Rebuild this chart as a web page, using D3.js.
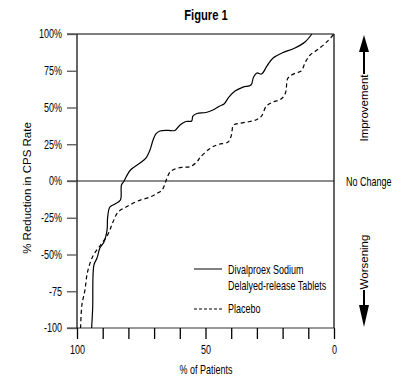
<!DOCTYPE html>
<html>
<head>
<meta charset="utf-8">
<script src="https://cdn.jsdelivr.net/npm/d3@7"></script>
<style>
  body { margin: 0; background: #fff; }
  svg { display: block; }
  text { font-family: 'Liberation Sans', Arial, sans-serif; }
</style>
</head>
<body>
<div id="chart"></div>
<script>
// Divalproex Sodium curve (% of patients, % reduction)
const solidX = [94.3, 93.9, 93.4, 92.2, 91.1, 89.5, 88.3, 88.1, 87.2, 85.2, 83.1, 82.7, 81.7, 79.2, 75.5, 73.2, 71.6, 70.4, 69.3, 67.7, 64.6, 61.9, 59.9, 57.6, 55.4, 54.9, 53.3, 49.8, 47.1, 44.4, 42.8, 40.9, 38.5, 35.4, 32.3, 31.3, 30.0, 28.2, 26.1, 23.7, 20.2, 15.2, 11.3, 8.6];
const solidY = [-100, -86.4, -57.1, -52.4, -45.6, -41.5, -33.3, -25.2, -17.7, -15.6, -12.9, -2.7, 0, 7.5, 12.2, 15.6, 21.1, 27.9, 32, 34, 34.4, 34.4, 38.1, 40.5, 40.8, 44.2, 45.9, 46.6, 48.3, 51, 52.4, 57.1, 61.2, 63.9, 65.3, 70.7, 73.5, 72.8, 78.2, 83.7, 87.1, 90.5, 94.6, 100];

// Placebo curve
const placeboX = [98.6, 98.1, 96.9, 95.9, 93.8, 91.1, 87.9, 86.0, 84.0, 80.9, 76.3, 71.6, 68.9, 66.9, 65.8, 65.0, 63.8, 61.9, 58.8, 56.0, 53.3, 52.1, 48.2, 45.1, 41.2, 39.9, 39.1, 36.6, 32.7, 30.0, 28.2, 26.3, 23.7, 20.6, 18.9, 18.1, 17.1, 14.8, 12.8, 11.1, 9.3, 6.6, 2.8, 0];
const placeboY = [-100, -84.4, -74.1, -61.9, -51, -44.2, -36.1, -27.9, -21.1, -17.7, -13.6, -10.9, -8.5, -6.1, -2, 2, 6.1, 8.2, 9.3, 9.7, 13.1, 16, 22.2, 24.8, 26.5, 31.3, 38.1, 39.3, 40.5, 41.8, 44.2, 51, 53.7, 55.8, 59.9, 69.4, 71.4, 73.5, 74.8, 81, 85.7, 89.1, 94.6, 100];

const yTicks = [100, 75, 50, 25, 0, -25, -50, -75, -100];
const yTickLabels = ['100%', '75%', '50%', '25%', '0%', '-25%', '-50%', '-75', '-100'];
const xTicks = [100, 90, 80, 70, 60, 50, 40, 30, 20, 10, 0];
const xTickLabels = ['100', '', '', '', '', '50', '', '', '', '', '0'];

const width = 401, height = 379;
const plotLeft = 77, plotRight = 334, plotTop = 34, plotBottom = 328;
const squeeze = 0.75; // condensed look

const svg = d3.select('#chart').append('svg')
  .attr('width', width)
  .attr('height', height);

const x = d3.scaleLinear().domain([100, 0]).range([plotLeft, plotRight]);
const y = d3.scaleLinear().domain([-100, 100]).range([plotBottom, plotTop]);

// narrow text helper
function narrow(px, py, str, size, anchor) {
  return svg.append('text')
    .attr('transform', `translate(${px},${py}) scale(${squeeze},1)`)
    .attr('text-anchor', anchor || 'start')
    .attr('font-size', size)
    .text(str);
}

// title
narrow(206, 20, 'Figure 1', 15, 'middle').attr('font-weight', 'bold');

// zero line and bottom line (gray)
svg.append('line')
  .attr('x1', 67).attr('x2', plotRight)
  .attr('y1', y(0)).attr('y2', y(0))
  .attr('stroke', '#666').attr('stroke-width', 1.6);
svg.append('line')
  .attr('x1', 67).attr('x2', plotRight)
  .attr('y1', plotBottom).attr('y2', plotBottom)
  .attr('stroke', '#777').attr('stroke-width', 1.3);

// frame
svg.append('line').attr('x1', 67).attr('x2', plotRight).attr('y1', plotTop).attr('y2', plotTop)
  .attr('stroke', '#000').attr('stroke-width', 1.2);
svg.append('line').attr('x1', plotLeft).attr('x2', plotLeft).attr('y1', plotTop).attr('y2', plotBottom)
  .attr('stroke', '#000').attr('stroke-width', 1.2);
svg.append('line').attr('x1', plotRight).attr('x2', plotRight).attr('y1', plotTop).attr('y2', plotBottom)
  .attr('stroke', '#000').attr('stroke-width', 1.2);

// y axis
svg.append('g')
  .attr('transform', `translate(${plotLeft},0)`)
  .call(d3.axisLeft(y).tickValues(yTicks).tickSize(10).tickPadding(5)
    .tickFormat((d, i) => yTickLabels[i]))
  .call(g => g.select('.domain').remove())
  .call(g => g.selectAll('.tick line').attr('stroke', '#555').attr('stroke-width', 1.3))
  .call(g => g.selectAll('.tick text')
    .attr('x', -15 / squeeze)
    .attr('transform', `scale(${squeeze},1)`)
    .attr('font-family', null)
    .attr('font-size', 12).attr('fill', '#000'));

// x axis
svg.append('g')
  .attr('transform', `translate(0,${plotBottom})`)
  .call(d3.axisBottom(x).tickValues(xTicks).tickSize(11).tickPadding(6)
    .tickFormat((d, i) => xTickLabels[i]))
  .call(g => g.select('.domain').remove())
  .call(g => g.selectAll('.tick line').attr('stroke', '#000').attr('stroke-width', 1.3))
  .call(g => g.selectAll('.tick text')
    .attr('transform', `scale(${squeeze},1)`)
    .attr('font-size', 12).attr('fill', '#000'));
svg.selectAll('.tick text').style('font-family', "'Liberation Sans', Arial, sans-serif");

// axis titles
narrow(206, 374, '% of Patients', 12, 'middle');

svg.append('text')
  .attr('transform', 'translate(31,188) rotate(-90)')
  .attr('text-anchor', 'middle')
  .attr('font-size', 11.5)
  .text('% Reduction in CPS Rate');

// curves
const line = d3.line()
  .curve(d3.curveCatmullRom)
  .x(d => x(d[0]))
  .y(d => y(d[1]));

svg.append('path')
  .datum(solidX.map((v, i) => [v, solidY[i]]))
  .attr('fill', 'none')
  .attr('stroke', '#000')
  .attr('stroke-width', 1.2)
  .attr('d', line);

svg.append('path')
  .datum(placeboX.map((v, i) => [v, placeboY[i]]))
  .attr('fill', 'none')
  .attr('stroke', '#000')
  .attr('stroke-width', 1.2)
  .attr('stroke-dasharray', '4,3')
  .attr('d', line);

// legend
svg.append('line').attr('x1', 194).attr('x2', 222).attr('y1', 269).attr('y2', 269)
  .attr('stroke', '#000').attr('stroke-width', 1);
svg.append('line').attr('x1', 194).attr('x2', 222).attr('y1', 309).attr('y2', 309)
  .attr('stroke', '#000').attr('stroke-width', 1).attr('stroke-dasharray', '3,2');
narrow(228, 274, 'Divalproex Sodium', 12);
narrow(228, 290, 'Delalyed-release Tablets', 12);
narrow(228, 313, 'Placebo', 12);

// right side annotations
narrow(346, 186, 'No Change', 12);

const ax = 364;
// up arrow
svg.append('path')
  .attr('d', `M${ax},35 L${ax - 5},52 L${ax + 5},52 Z`)
  .attr('fill', '#000');
svg.append('line').attr('x1', ax).attr('x2', ax).attr('y1', 50).attr('y2', 74)
  .attr('stroke', '#000').attr('stroke-width', 2);
svg.append('text')
  .attr('transform', `translate(${ax + 4},108) rotate(-90)`)
  .attr('text-anchor', 'middle').attr('font-size', 11.5)
  .text('Improvement');

// down arrow
svg.append('path')
  .attr('d', `M${ax},327 L${ax - 5},305 L${ax + 5},305 Z`)
  .attr('fill', '#000');
svg.append('line').attr('x1', ax).attr('x2', ax).attr('y1', 290).attr('y2', 307)
  .attr('stroke', '#000').attr('stroke-width', 2);
svg.append('text')
  .attr('transform', `translate(${ax + 4},262) rotate(-90)`)
  .attr('text-anchor', 'middle').attr('font-size', 11.5)
  .text('Worsening');
</script>
</body>
</html>
